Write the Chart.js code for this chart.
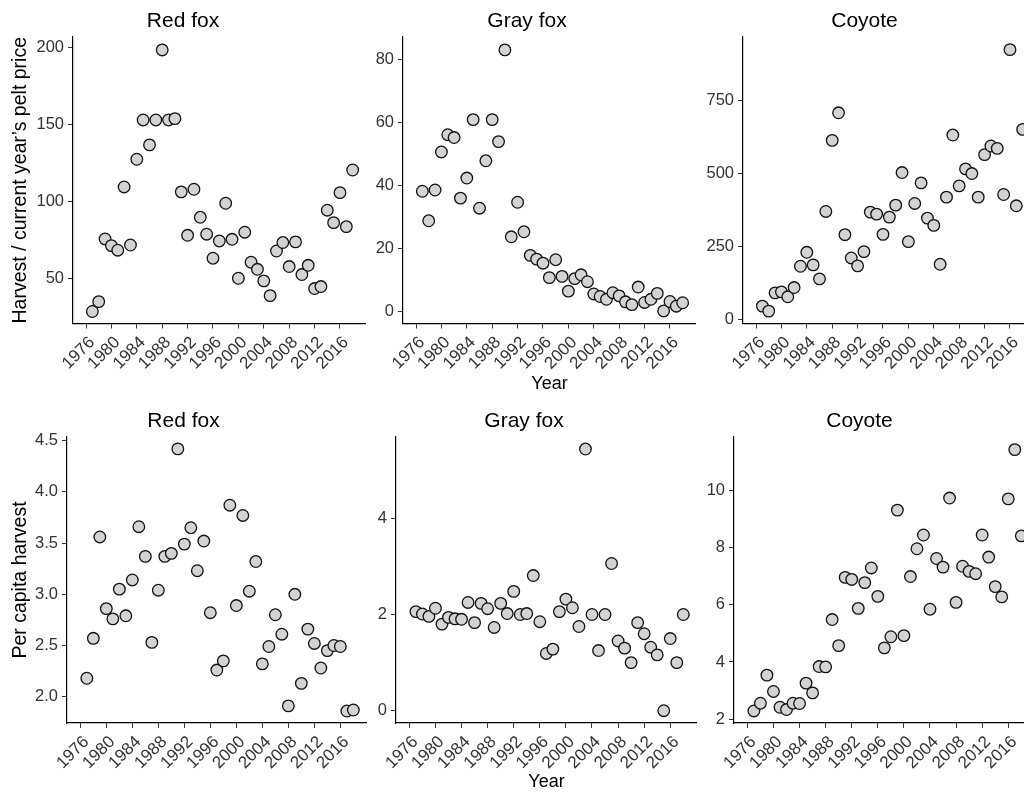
<!DOCTYPE html>
<html>
<head>
<meta charset="utf-8">
<script src="https://cdn.jsdelivr.net/npm/chart.js@4.4.1/dist/chart.umd.min.js"></script>
<style>
  html, body { margin: 0; padding: 0; background: #ffffff; overflow: hidden; }
  #wrap { position: relative; width: 1024px; height: 794px; overflow: hidden; background: #ffffff; }
  canvas { position: absolute; }
</style>
</head>
<body>
<div id="wrap">
  <canvas id="c1"></canvas>
  <canvas id="c2"></canvas>
  <canvas id="c3"></canvas>
  <canvas id="c4"></canvas>
  <canvas id="c5"></canvas>
  <canvas id="c6"></canvas>
</div>
<script>
// ---------------- DATA ----------------
const years = [1977,1978,1979,1980,1981,1982,1983,1984,1985,1986,1987,1988,1989,1990,1991,1992,1993,1994,1995,1996,1997,1998,1999,2000,2001,2002,2003,2004,2005,2006,2007,2008,2009,2010,2011,2012,2013,2014,2015,2016,2017,2018];

const redFoxPrice = [28.4,34.8,75.5,71.2,68.2,109.3,71.6,127.3,152.8,136.6,152.8,198.3,152.8,153.7,106.1,77.9,107.8,89.6,78.6,63.0,74.2,98.7,75.3,50.0,79.9,60.4,55.8,48.3,38.7,67.7,73.2,57.6,73.6,52.4,58.4,43.3,44.6,94.2,86.1,105.6,83.5,120.3];
const grayFoxPrice = [38.2,28.8,38.6,50.7,56.2,55.3,36.0,42.4,61.0,32.8,47.9,61.0,54.0,83.2,23.7,34.7,25.3,17.8,16.6,15.3,10.7,16.4,11.1,6.4,10.4,11.6,9.4,5.5,4.7,3.8,5.9,4.9,3.0,2.1,7.7,2.8,3.8,5.7,0.1,3.1,1.6,2.7];
const coyotePrice = [45.5,28.4,90.9,94.3,77.3,109.0,181.8,229.5,186.4,138.6,369.3,612.5,706.8,289.8,210.2,183.0,231.8,367.0,360.2,290.9,350.0,390.9,502.3,265.9,396.6,467.0,346.6,321.6,188.6,418.2,630.7,456.8,514.8,498.9,418.2,563.6,593.2,585.2,427.3,922.7,388.6,650.0];

const redFoxPerCapita = [2.18,2.57,3.56,2.86,2.76,3.05,2.79,3.14,3.66,3.37,2.53,3.04,3.37,3.40,4.42,3.49,3.65,3.23,3.52,2.82,2.26,2.35,3.87,2.89,3.77,3.03,3.32,2.32,2.49,2.80,2.61,1.91,3.00,2.13,2.66,2.52,2.28,2.45,2.50,2.49,1.86,1.87];
const grayFoxPerCapita = [2.06,2.01,1.96,2.13,1.80,1.94,1.91,1.90,2.25,1.83,2.23,2.12,1.73,2.23,2.02,2.48,2.00,2.02,2.81,1.85,1.19,1.28,2.06,2.32,2.14,1.75,5.44,2.00,1.25,2.00,3.06,1.45,1.30,1.00,1.83,1.60,1.32,1.16,0.00,1.50,1.00,2.00];
const coyotePerCapita = [2.29,2.56,3.54,2.97,2.42,2.34,2.56,2.55,3.26,2.92,3.84,3.83,5.48,4.57,6.95,6.88,5.87,6.77,7.28,6.29,4.49,4.88,9.30,4.92,6.98,7.95,8.43,5.84,7.61,7.31,9.72,6.08,7.34,7.16,7.08,8.43,7.66,6.63,6.27,9.69,11.41,8.40];

// tick values and labels
const yearTicks = [1976,1980,1984,1988,1992,1996,2000,2004,2008,2012,2016];
const yearTickLabels = ['1976','1980','1984','1988','1992','1996','2000','2004','2008','2012','2016'];
const redFoxPriceTicks = [50,100,150,200];
const redFoxPriceTickLabels = ['50','100','150','200'];
const grayFoxPriceTicks = [0,20,40,60,80];
const grayFoxPriceTickLabels = ['0','20','40','60','80'];
const coyotePriceTicks = [0,250,500,750];
const coyotePriceTickLabels = ['0','250','500','750'];
const redFoxCapTicks = [2.0,2.5,3.0,3.5,4.0,4.5];
const redFoxCapTickLabels = ['2.0','2.5','3.0','3.5','4.0','4.5'];
const grayFoxCapTicks = [0,2,4];
const grayFoxCapTickLabels = ['0','2','4'];
const coyoteCapTicks = [2,4,6,8,10];
const coyoteCapTickLabels = ['2','4','6','8','10'];

const panelTitles = ['Red fox','Gray fox','Coyote'];
const yTitleTop = 'Harvest / current year\u2019s pelt price';
const yTitleBottom = 'Per capita harvest';
const xTitle = 'Year';

// ---------------- STYLE / LAYOUT ----------------
const FONT = "'Liberation Sans', Arial, Helvetica, sans-serif";
const TICK_COLOR = '#333333';
const TEXT_COLOR = '#000000';

function panel(id, geom, values, yTicks, yLabels, yMin, yMax, title, yTitle, showX) {
  const cv = document.getElementById(id);
  cv.width = geom.w; cv.height = geom.h;
  cv.style.left = geom.left + 'px'; cv.style.top = geom.top + 'px';
  cv.style.width = geom.w + 'px'; cv.style.height = geom.h + 'px';
  const pts = years.map((yr, i) => ({ x: yr, y: values[i] }));
  new Chart(cv, {
    type: 'scatter',
    data: { datasets: [{
      data: pts,
      pointRadius: 5.8,
      pointHoverRadius: 5.8,
      pointBackgroundColor: '#d3d3d3',
      pointBorderColor: '#111111',
      pointBorderWidth: 1.3,
      clip: false
    }]},
    options: {
      responsive: false,
      animation: false,
      devicePixelRatio: 1,
      layout: { padding: 0, autoPadding: false },
      events: [],
      plugins: {
        legend: { display: false },
        tooltip: { enabled: false },
        title: {
          display: true,
          text: title,
          color: TEXT_COLOR,
          font: { family: FONT, size: 21, weight: 'normal', lineHeight: 1.2 },
          padding: { top: 8.4, bottom: 37 - 25.2 - 8.4 }
        }
      },
      scales: {
        x: {
          type: 'linear',
          position: 'bottom',
          min: 1973.95,
          max: 2020.1,
          afterFit: s => { s.height = geom.xH; s.paddingLeft = 0; s.paddingRight = 0; },
          afterBuildTicks: s => { s.ticks = yearTicks.map(v => ({ value: v })); },
          ticks: {
            autoSkip: false,
            minRotation: 45,
            maxRotation: 45,
            padding: 4,
            labelOffset: 6,
            color: TICK_COLOR,
            font: { family: FONT, size: 17 },
            callback: (v) => { const k = yearTicks.indexOf(v); return k >= 0 ? yearTickLabels[k] : ''; }
          },
          grid: { display: true, drawOnChartArea: false, drawTicks: true, tickLength: 5, color: '#333333', tickWidth: 1 },
          border: { display: true, color: '#000000', width: 1.2 },
          title: {
            display: showX,
            text: xTitle,
            color: TEXT_COLOR,
            font: { family: FONT, size: 18, lineHeight: 1.2 },
            padding: { top: 0, bottom: 0 }
          }
        },
        y: {
          type: 'linear',
          position: 'left',
          min: yMin,
          max: yMax,
          afterFit: s => { s.width = geom.yW; s.paddingTop = 0; s.paddingBottom = 0; },
          afterBuildTicks: s => { s.ticks = yTicks.map(v => ({ value: v })); },
          ticks: {
            autoSkip: false,
            padding: 4,
            color: TICK_COLOR,
            font: { family: FONT, size: 16.5 },
            callback: (v) => { const k = yTicks.indexOf(v); return k >= 0 ? yLabels[k] : ''; }
          },
          grid: { display: true, drawOnChartArea: false, drawTicks: true, tickLength: 5, color: '#333333', tickWidth: 1 },
          border: { display: true, color: '#000000', width: 1.2 },
          title: {
            display: !!yTitle,
            text: yTitle || '',
            color: TEXT_COLOR,
            font: { family: FONT, size: 19.5, lineHeight: 1.2 },
            padding: { top: 9, bottom: 0 }
          }
        }
      }
    }
  });
}

// geometry: canvas left/top/size, y-axis box width, x-axis box height
const gTop = { top: 0, h: 395, xH: 71.5 };
const gBot = { top: 400, h: 393, xH: 70 };

panel('c1', { left: 0,   top: gTop.top, w: 366, h: gTop.h, xH: gTop.xH, yW: 73 },
      redFoxPrice, redFoxPriceTicks, redFoxPriceTickLabels, 20.6, 206.7, panelTitles[0], yTitleTop, false);
panel('c2', { left: 358, top: gTop.top, w: 338, h: gTop.h, xH: gTop.xH, yW: 45 },
      grayFoxPrice, grayFoxPriceTicks, grayFoxPriceTickLabels, -3.9, 87.3, panelTitles[1], null, true);
panel('c3', { left: 693, top: gTop.top, w: 343, h: gTop.h, xH: gTop.xH, yW: 50 },
      coyotePrice, coyotePriceTicks, coyotePriceTickLabels, -14, 966, panelTitles[2], null, false);

panel('c4', { left: 0,   top: gBot.top, w: 367, h: gBot.h, xH: gBot.xH, yW: 67 },
      redFoxPerCapita, redFoxCapTicks, redFoxCapTickLabels, 1.743, 4.536, panelTitles[0], yTitleBottom, false);
panel('c5', { left: 351, top: gBot.top, w: 346, h: gBot.h, xH: gBot.xH, yW: 45 },
      grayFoxPerCapita, grayFoxCapTicks, grayFoxCapTickLabels, -0.256, 5.69, panelTitles[1], null, true);
panel('c6', { left: 684, top: gBot.top, w: 351, h: gBot.h, xH: gBot.xH, yW: 50 },
      coyotePerCapita, coyoteCapTicks, coyoteCapTickLabels, 1.87, 11.85, panelTitles[2], null, false);
</script>
</body>
</html>
